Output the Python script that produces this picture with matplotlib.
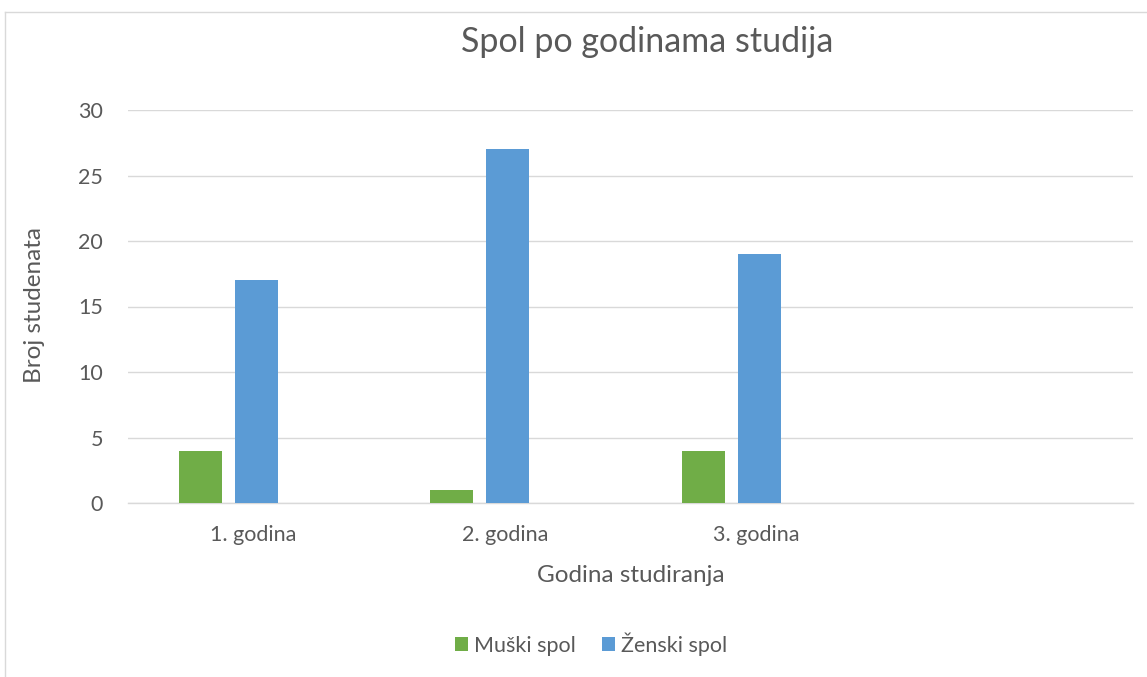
import matplotlib
matplotlib.use("Agg")
import matplotlib.pyplot as plt
from matplotlib.lines import Line2D
from matplotlib.patches import Patch

categories = ["1. godina", "2. godina", "3. godina", ""]
muski = [4, 1, 4, 0]
zenski = [17, 27, 19, 0]
series_names = ["Muški spol", "Ženski spol"]
colors = ["#70AD47", "#5B9BD5"]
yticks = [0, 5, 10, 15, 20, 25, 30]

plt.rcParams['font.family'] = ['Lato', 'DejaVu Sans']
txt = "#595959"

W, H = 1147, 677
fig = plt.figure(figsize=(W / 100, H / 100), dpi=100)
ax = fig.add_axes([128 / W, 1 - 503 / H, (1133 - 128) / W, (503 - 110) / H])

bw = 0.171
x = list(range(len(categories)))
ax.bar([i - 0.211 for i in x], muski, width=bw, color=colors[0], zorder=3)
ax.bar([i + 0.012 for i in x], zenski, width=bw, color=colors[1], zorder=3)

ax.set_xlim(-0.5, len(categories) - 0.5)
ax.set_ylim(0, 30)
ax.set_yticks(yticks)
ax.set_xticks(x)
ax.set_xticklabels(categories)
ax.yaxis.grid(True, color="#D9D9D9", linewidth=1.0, zorder=0)
ax.set_axisbelow(True)
for s in ["top", "right", "left"]:
    ax.spines[s].set_visible(False)
ax.spines["bottom"].set_color("#D9D9D9")
ax.spines["bottom"].set_linewidth(1.0)
ax.tick_params(axis="both", length=0, labelsize=15.5, colors=txt)
ax.tick_params(axis="x", pad=16)
ax.tick_params(axis="y", pad=18)

fig.text(647 / W, 1 - 42 / H, "Spol po godinama studija", ha="center", va="center",
         fontsize=24.5, color=txt)
fig.text(35 / W, 1 - 305 / H, "Broj studenata", ha="center", va="center",
         rotation=90, fontsize=17.5, color=txt)
fig.text(631 / W, 1 - 575 / H, "Godina studiranja", ha="center", va="center",
         fontsize=17.5, color=txt)

handles = [Patch(facecolor=c, edgecolor="none") for c in colors]
fig.legend(handles, series_names, loc="center", bbox_to_anchor=(591 / W, 1 - 644 / H),
           ncol=2, frameon=False, fontsize=15.5, labelcolor=txt, handlelength=0.6,
           handleheight=0.6, handletextpad=0.3, columnspacing=1.2)

# outer chart frame
fig.add_artist(Line2D([5 / W, 1], [1 - 12 / H, 1 - 12 / H], color="#D9D9D9", linewidth=1.0))
fig.add_artist(Line2D([5 / W, 5 / W], [0, 1 - 12 / H], color="#D9D9D9", linewidth=1.0))

fig.savefig("out.png", dpi=100)
